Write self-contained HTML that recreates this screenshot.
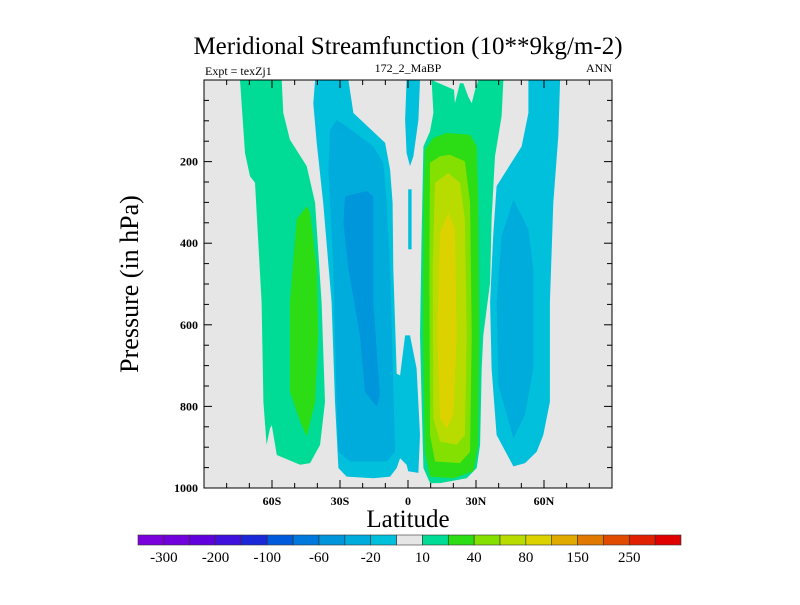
<!DOCTYPE html>
<html><head><meta charset="utf-8"><style>
body{margin:0;background:#fff;}
svg text{font-family:"Liberation Serif",serif;}
</style></head><body>
<svg id="chart" width="800" height="600" viewBox="0 0 800 600">
<rect x="0" y="0" width="800" height="600" fill="#fff"/>
<text x="408" y="54" font-size="25" text-anchor="middle">Meridional Streamfunction (10**9kg/m-2)</text>
<text x="205" y="75" font-size="12">Expt = texZj1</text>
<text x="408" y="72" font-size="12" text-anchor="middle">172_2_MaBP</text>
<text x="612" y="72" font-size="12" text-anchor="end">ANN</text>
<rect x="204" y="80" width="408" height="408" fill="#e6e6e6"/>
<g id="regions"></g>
<g id="axes"></g>
<rect x="204" y="80" width="408" height="408" fill="none" stroke="#000" stroke-width="1"/>
<text transform="translate(138,284) rotate(-90)" font-size="26" text-anchor="middle">Pressure (in hPa)</text>
<text x="408" y="527" font-size="25" text-anchor="middle">Latitude</text>
<g id="colorbar"></g>
</svg>
<script>
const levelColors=["#7a00dc","#7000dc","#6000dc","#4010dc","#1a28d8","#005adc","#0078dc","#0096dc","#00acdc","#00c0dc","#e6e6e6","#00dc96","#2cdc14","#84e000","#b8dc00","#dcd200","#e1aa00","#e17800","#e14b00","#e02000","#e00000"];
const colorbarLabels=["-300","-200","-100","-60","-20","10","40","80","150","250"];
const yTicks=[200,400,600,800,1000];
const xTicks=[-60,-30,0,30,60];
const xTickLabels=["60S","30S","0","30N","60N"];
// contour regions: level index, latitudes, pressures
const regionLevels=[11,12,9,8,7,9,9,11,12,13,14,15,9,8];
const regionLats=[
[-74.1,-71.9,-69.7,-67.5,-64.6,-63.8,-62.4,-60.9,-60.1,-57.9,-47.6,-43.2,-38.8,-36.6,-38.1,-41,-44.7,-52.1,-55,-55.7],
[-44.7,-49.1,-52.1,-52.1,-47.6,-44.7,-41,-39.6,-40.3,-43.2],
[-41,-41.8,-40.3,-37.4,-33.7,-32.2,-30.7,-27.1,-15.3,-7.9,-5,-3.5,-0.6,0.1,4.6,5.3,3.8,0.9,-1.3,-3.5,-5,-6.5,-6.8,-7.9,-10.1,-24.1,-26.3],
[-34.4,-35.1,-32.9,-31.5,-30.7,-25.6,-9.4,-5.7,-6.5,-7.9,-9.4,-10.9,-15.3,-27.1,-31.5],
[-27.8,-28.5,-26.3,-21.2,-19,-13.8,-12.4,-15.3,-15.3,-18.2],
[-0.6,5.3,4.6,2.4,0.9,-0.6,-1.3],
[0.1,1.6,1.6,0.1],
[10.4,11.2,9.7,6.8,6,5.3,6,6.8,9.7,14.1,25.9,30.3,31.8,32.5,33.2,36.2,36.9,38.4,41.3,42.1,31,29.6,28.1,26.6,24.4,22.9,22.2,20.7,20.3],
[7.5,6.8,6.5,7.5,9.7,20,28.8,31,31.5,31,30.3,27.4,17.1,11.2],
[9.7,9.4,9.7,11.9,22.9,27.4,28.1,27.4,25.1,18.5,14.1],
[11.9,10.9,11.2,14.1,21.5,25.1,25.9,25.1,22.9,17.8],
[14.1,12.9,14.1,17.1,20,21.5,20.7,17.8],
[53.1,53.1,50.1,39.1,37.6,36.2,36.9,39.1,46.5,51.6,56.8,59.7,62.6,62.6,64.1,66.3,67.1],
[46.5,41.3,39.1,39.9,46.5,51.6,55.3,55.3,53.1]
];
const regionPres=[
[0,179,236,252,545,789,894,854,846,919,943,939,894,789,545,301,211,146,81,0],
[309,341,545,764,837,874,789,626,463,325],
[0,57,154,301,545,789,951,972,976,972,951,927,943,959,963,870,707,626,626,724,720,463,301,220,154,81,0],
[122,220,463,789,911,935,935,911,748,463,301,203,163,114,98],
[285,350,463,626,764,801,772,545,285,272],
[0,0,98,187,211,179,98],
[268,268,415,415],
[0,81,126,163,382,626,789,951,988,988,976,951,894,707,626,496,341,187,89,0,0,24,57,41,8,8,24,57,24,0],
[171,301,626,911,972,976,959,894,626,301,163,134,130,142],
[203,463,870,935,939,911,626,301,199,183,187],
[252,463,829,886,894,870,626,341,252,228],
[374,626,829,854,821,626,366,325],
[0,81,163,260,382,545,707,870,947,939,911,870,789,545,301,138,0],
[293,382,545,748,878,821,707,463,366]
];
const NS="http://www.w3.org/2000/svg";
const xS=lat=>408+lat*408/180;
const yS=p=>80+p*408/1000;
const reg=document.getElementById('regions');
regionLevels.forEach((lv,i)=>{
  const pts=regionLats[i].map((la,j)=>xS(la).toFixed(1)+","+yS(regionPres[i][j]).toFixed(1)).join(" ");
  const pg=document.createElementNS(NS,'polygon');
  pg.setAttribute('points',pts);
  pg.setAttribute('fill',levelColors[lv]);
  
  
  reg.appendChild(pg);
});
const ax=document.getElementById('axes');
function line(x1,y1,x2,y2,name){
  const l=document.createElementNS(NS,'line');
  l.setAttribute('x1',x1);l.setAttribute('y1',y1);l.setAttribute('x2',x2);l.setAttribute('y2',y2);
  l.setAttribute('stroke','#000');l.setAttribute('stroke-width','1');
  
  
  ax.appendChild(l);
}
function text(x,y,s,anchor,size,name){
  const t=document.createElementNS(NS,'text');
  t.setAttribute('x',x);t.setAttribute('y',y);t.setAttribute('text-anchor',anchor);
  t.setAttribute('font-size',size);t.setAttribute('font-weight','bold');
  t.textContent=s;
  
  
  return t;
}
for(let p=50;p<1000;p+=50){
  const y=yS(p),len=(p%200===0)?8:5;
  line(204,y,204+len,y,'y-tick');line(612,y,612-len,y,'y-tick');
}
yTicks.forEach(p=>ax.appendChild(text(198,yS(p)+4,String(p),'end',12,'y-tick-label')));
for(let la=-80;la<=80;la+=10){
  const x=xS(la),len=(la%30===0)?8:5;
  line(x,488,x,488-len,'x-tick');line(x,80,x,80+len,'x-tick');
}
xTicks.forEach((la,i)=>ax.appendChild(text(xS(la),505,xTickLabels[i],'middle',12,'x-tick-label')));
const cb=document.getElementById('colorbar');
const cbX=138,cbW=543,cbY=535,cbH=10,bw=cbW/levelColors.length;
levelColors.forEach((c,i)=>{
  const r=document.createElementNS(NS,'rect');
  r.setAttribute('x',cbX+i*bw);r.setAttribute('y',cbY);r.setAttribute('width',bw);r.setAttribute('height',cbH);
  r.setAttribute('fill',c);r.setAttribute('stroke','#333');r.setAttribute('stroke-width','0.6');
  
  
  cb.appendChild(r);
});
colorbarLabels.forEach((s,i)=>{
  const t=text(cbX+(2*i+1)*bw,562,s,'middle',15,'colorbar-label');
  t.setAttribute('font-weight','normal');
  cb.appendChild(t);
});
</script>
</body></html>
